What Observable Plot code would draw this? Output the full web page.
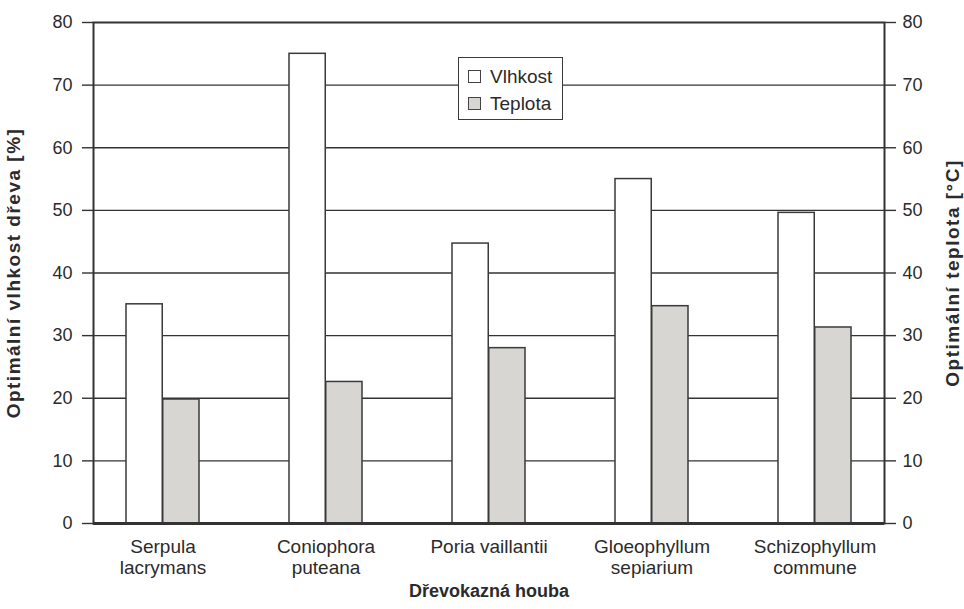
<!DOCTYPE html>
<html>
<head>
<meta charset="utf-8">
<script src="https://cdn.jsdelivr.net/npm/d3@7"></script>
<script src="https://cdn.jsdelivr.net/npm/@observablehq/plot@0.6"></script>
<style>
  body { margin: 0; background: #fff; }
  #wrap { position: relative; width: 964px; height: 609px; font-family: "Liberation Sans", Arial, Helvetica, sans-serif; color: #2b2b2b; }
  .chart g[aria-label="y-axis label"] text { letter-spacing: 1.5px; }
  .legend { position: absolute; left: 458px; top: 57px; width: 105px; height: 63px; border: 1.5px solid #3a3a3a; background: #fff; box-sizing: border-box; }
  .item { position: absolute; left: 9px; display: flex; align-items: center; font-size: 19px; line-height: 21px; }
  .sw { width: 13px; height: 13px; border: 1.3px solid #444; box-sizing: border-box; margin-right: 9px; }
</style>
</head>
<body>
<div id="wrap"></div>
<script>
// ---- data ----
const species = ["Serpula\nlacrymans", "Coniophora\nputeana", "Poria vaillantii", "Gloeophyllum\nsepiarium", "Schizophyllum\ncommune"];
const vlhkost = [35, 75, 44.7, 55, 49.6];   // Optimální vlhkost dřeva [%]
const teplota = [19.8, 22.6, 28, 34.7, 31.3]; // Optimální teplota [°C]
const yTicks = [0, 10, 20, 30, 40, 50, 60, 70, 80];
const gridValues = [10, 20, 30, 40, 50, 60, 70];
const seriesNames = ["Vlhkost", "Teplota"];
const seriesColors = ["#ffffff", "#d8d6d2"];

const data = species.map((s, i) => ({species: s, vlhkost: vlhkost[i], teplota: teplota[i]}));

const W = 964, H = 609;
const mL = 93, mR = 80, mT = 22, mB = 86;
const pIn = 0.5507, pOut = 0.1928;
const bw = d3.scaleBand().domain(species).range([mL, W - mR]).paddingInner(pIn).paddingOuter(pOut).bandwidth();

const ink = "#2b2b2b", line = "#333";

const chart = Plot.plot({
  width: W, height: H,
  marginLeft: mL, marginRight: mR, marginTop: mT, marginBottom: mB,
  className: "chart",
  style: {fontFamily: "'Liberation Sans', Arial, Helvetica, sans-serif", color: ink, background: "#fff"},
  x: {domain: species, paddingInner: pIn, paddingOuter: pOut, align: 0.5},
  y: {domain: [0, 80]},
  marks: [
    Plot.ruleY(gridValues, {stroke: line, strokeWidth: 1.4}),
    Plot.barY(data, {x: "species", y: "vlhkost", fill: seriesColors[0], stroke: "#3a3a3a", strokeWidth: 1.5, insetRight: bw / 2}),
    Plot.barY(data, {x: "species", y: "teplota", fill: seriesColors[1], stroke: "#3a3a3a", strokeWidth: 1.5, insetLeft: bw / 2}),
    Plot.frame({stroke: line, strokeWidth: 2}),
    Plot.ruleY([0], {stroke: line, strokeWidth: 3}),
    Plot.axisY({anchor: "left", ticks: yTicks, tickSize: 11, tickPadding: 10, fontSize: 18, stroke: line, strokeWidth: 1.4, label: null}),
    Plot.axisY({anchor: "right", ticks: yTicks, tickSize: 11, tickPadding: 7, fontSize: 18, stroke: line, strokeWidth: 1.4, label: null}),
    Plot.axisY({anchor: "left", ticks: [], label: "Optimální vlhkost dřeva [%]", labelAnchor: "center", labelArrow: "none", labelOffset: 87, fontSize: 19, fontWeight: "bold"}),
    Plot.axisY({anchor: "right", ticks: [], label: "Optimální teplota [°C]", labelAnchor: "center", labelArrow: "none", labelOffset: 74, fontSize: 19, fontWeight: "bold"}),
    Plot.axisX({anchor: "bottom", tickSize: 0, tickPadding: 15, fontSize: 19, lineHeight: 1.08, label: null}),
    Plot.axisX({anchor: "bottom", ticks: [], label: "Dřevokazná houba", labelAnchor: "center", labelArrow: "none", labelOffset: 73, fontSize: 18, fontWeight: "bold"})
  ]
});

const wrap = document.getElementById("wrap");
wrap.appendChild(chart);

// legend
const legend = document.createElement("div");
legend.className = "legend";
seriesNames.forEach((name, i) => {
  const item = document.createElement("div");
  item.className = "item";
  item.style.top = (8 + i * 27) + "px";
  const sw = document.createElement("span");
  sw.className = "sw";
  sw.style.background = seriesColors[i];
  const label = document.createElement("span");
  label.textContent = name;
  item.appendChild(sw);
  item.appendChild(label);
  legend.appendChild(item);
});
wrap.appendChild(legend);
</script>
</body>
</html>
